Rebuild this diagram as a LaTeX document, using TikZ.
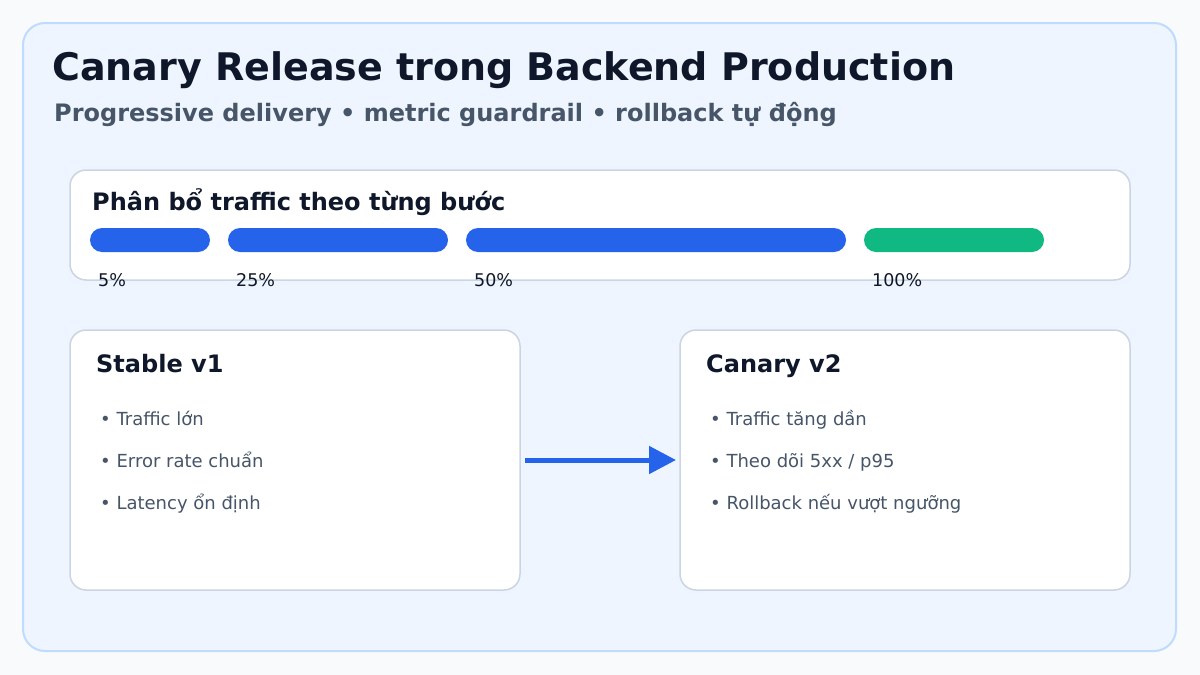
\documentclass[tikz,border=0pt]{standalone}
\usepackage{fontspec}
\setmainfont{DejaVu Sans}
\usetikzlibrary{arrows.meta}
\definecolor{bg}{HTML}{F8FAFC}
\definecolor{panel}{HTML}{EEF5FF}
\definecolor{panelb}{HTML}{BFDBFE}
\definecolor{cardb}{HTML}{CBD5E1}
\definecolor{ink}{HTML}{0F172A}
\definecolor{muted}{HTML}{475569}
\definecolor{blue}{HTML}{2563EB}
\definecolor{green}{HTML}{10B981}
\tikzset{
 card/.style={draw=cardb,line width=1.5pt,fill=white,rounded corners=16pt},
 bar/.style={rounded corners=12pt},
 txt/.style={anchor=base west,inner sep=0pt},
 head/.style={txt,text=ink,font=\fontsize{24}{28}\selectfont\bfseries},
 item/.style={txt,text=muted,font=\fontsize{18}{21}\selectfont},
 pct/.style={txt,text=ink,font=\fontsize{17.5}{20}\selectfont},
}
\begin{document}
\begin{tikzpicture}[x=1pt,y=-1pt]
\fill[bg] (0,0) rectangle (1200,675);
\useasboundingbox (0,0) rectangle (1200,675);
\draw[panelb,fill=panel,line width=2pt,rounded corners=22pt] (23,23) rectangle (1176,651);
\node[txt,text=ink,font=\fontsize{38}{42}\selectfont\bfseries] (title) at (52,80) {Canary Release trong Backend Production};
\node[txt,text=muted,font=\fontsize{24}{28}\selectfont\bfseries] (sub) at (54,121) {Progressive delivery • metric guardrail • rollback tự động};
\draw[card] (70,170) rectangle (1130,280);
\node[head] (ph) at (92,210) {Phân bổ traffic theo từng bước};
\fill[blue,bar] (90,228) rectangle (210,252);
\fill[blue,bar] (228,228) rectangle (448,252);
\fill[blue,bar] (466,228) rectangle (846,252);
\fill[green,bar] (864,228) rectangle (1044,252);
\node[pct] (p1) at (98,286) {5\%};
\node[pct] (p2) at (236,286) {25\%};
\node[pct] (p3) at (474,286) {50\%};
\node[pct] (p4) at (872,286) {100\%};
\draw[card] (70,330) rectangle (520,590);
\draw[card] (680,330) rectangle (1130,590);
\node[head] (s) at (96,372) {Stable v1};
\node[item] (s1) at (100,425) {• Traffic lớn};
\node[item] (s2) at (100,467) {• Error rate chuẩn};
\node[item] (s3) at (100,509) {• Latency ổn định};
\node[head] (c) at (706,372) {Canary v2};
\node[item] (c1) at (710,425) {• Traffic tăng dần};
\node[item] (c2) at (710,467) {• Theo dõi 5xx / p95};
\node[item] (c3) at (710,509) {• Rollback nếu vượt ngưỡng};
\coordinate (a0) at (525,460);
\coordinate (a1) at (676,460);
\draw[blue,line width=5pt,-{Triangle[length=27pt,width=27pt]}] (a0) -- (a1);
\end{tikzpicture}
\end{document}
